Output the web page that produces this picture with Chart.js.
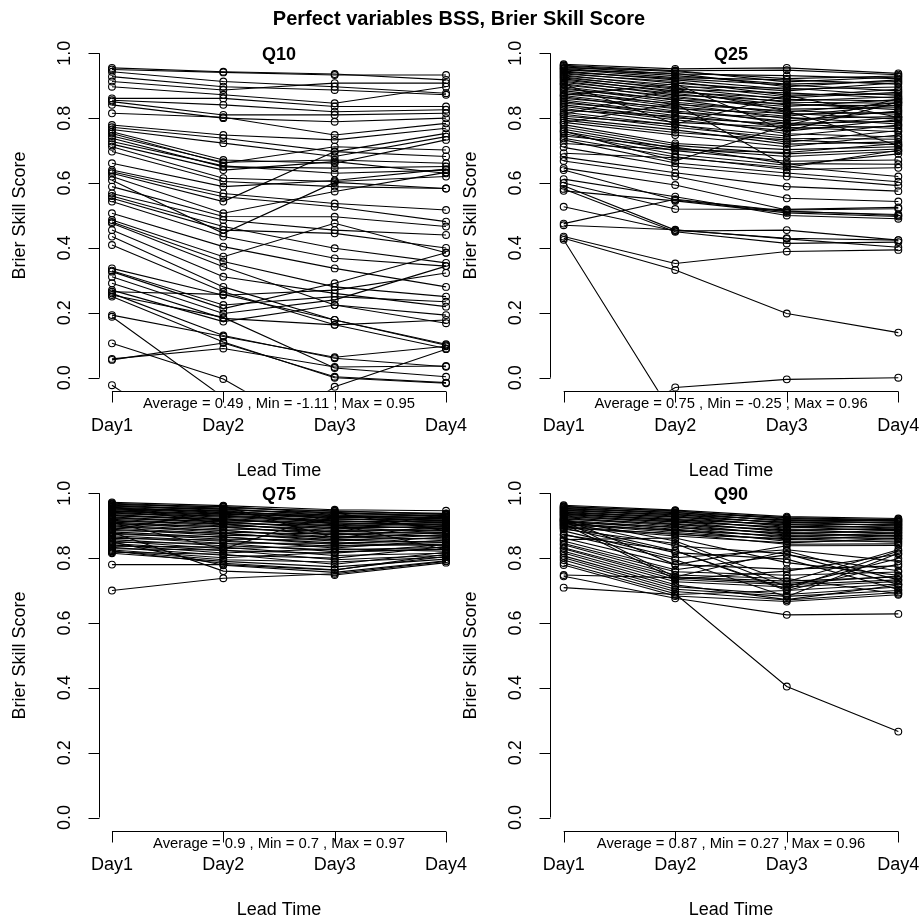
<!DOCTYPE html>
<html lang="en">
<head>
    <meta charset="UTF-8">
    <title>Perfect variables BSS, Brier Skill Score</title>
    <script src="https://cdn.jsdelivr.net/npm/chart.js"></script>
    <style>
        body { margin: 0; background: #ffffff; }
        #wrap { position: relative; width: 919px; height: 921px; }
        #wrap canvas { position: absolute; left: 0; top: 0; }
    </style>
</head>
<body>
    <div id="wrap">
        <canvas id="c10" width="919" height="921"></canvas>
        <canvas id="c25" width="919" height="921"></canvas>
        <canvas id="c75" width="919" height="921"></canvas>
        <canvas id="c90" width="919" height="921"></canvas>
    </div>

    <script>
        const mainTitle = 'Perfect variables BSS, Brier Skill Score';
        const days = ['Day1', 'Day2', 'Day3', 'Day4'];
        const yTicks = [0, 0.2, 0.4, 0.6, 0.8, 1.0];
        const yTitle = 'Brier Skill Score';
        const xTitle = 'Lead Time';
        const panelNames = ['Q10', 'Q25', 'Q75', 'Q90'];
        const statLines = [
            'Average = 0.49 , Min = -1.11 , Max = 0.95',
            'Average = 0.75 , Min = -0.25 , Max = 0.96',
            'Average = 0.9 , Min = 0.7 , Max = 0.97',
            'Average = 0.87 , Min = 0.27 , Max = 0.96'
        ];

        // one row per variable: Day1..Day4
        const q10 = [
            [0.955, 0.943, 0.936, 0.918], [0.950, 0.941, 0.933, 0.933], [0.943, 0.913, 0.897, 0.877],
            [0.928, 0.897, 0.887, 0.872], [0.913, 0.887, 0.908, 0.908], [0.897, 0.872, 0.846, 0.897],
            [0.861, 0.861, 0.836, 0.836], [0.855, 0.841, 0.820, 0.826], [0.851, 0.810, 0.810, 0.815],
            [0.841, 0.800, 0.789, 0.800], [0.815, 0.803, 0.748, 0.784], [0.779, 0.748, 0.733, 0.769],
            [0.772, 0.738, 0.697, 0.753], [0.765, 0.723, 0.682, 0.743], [0.758, 0.671, 0.661, 0.733],
            [0.753, 0.661, 0.712, 0.702], [0.745, 0.664, 0.671, 0.661], [0.738, 0.650, 0.646, 0.651],
            [0.728, 0.653, 0.630, 0.640], [0.720, 0.640, 0.666, 0.630], [0.712, 0.615, 0.605, 0.620],
            [0.697, 0.605, 0.589, 0.583], [0.661, 0.589, 0.608, 0.643], [0.640, 0.568, 0.537, 0.517],
            [0.635, 0.558, 0.527, 0.481], [0.630, 0.543, 0.697, 0.682], [0.620, 0.507, 0.574, 0.633],
            [0.609, 0.445, 0.602, 0.583], [0.589, 0.497, 0.496, 0.466], [0.568, 0.486, 0.455, 0.440],
            [0.560, 0.466, 0.399, 0.354], [0.553, 0.455, 0.445, 0.400], [0.543, 0.435, 0.368, 0.344],
            [0.507, 0.404, 0.337, 0.280], [0.486, 0.373, 0.476, 0.385], [0.480, 0.358, 0.280, 0.250],
            [0.476, 0.342, 0.224, 0.193], [0.455, 0.311, 0.260, 0.219], [0.435, 0.280, 0.178, 0.100],
            [0.409, 0.265, 0.163, 0.090], [0.337, 0.254, 0.270, 0.323], [0.330, 0.224, 0.250, 0.234],
            [0.327, 0.213, 0.291, 0.385], [0.311, 0.198, 0.240, 0.344], [0.291, 0.183, 0.163, 0.178],
            [0.270, 0.173, 0.224, 0.168], [0.265, 0.257, 0.178, 0.103], [0.260, 0.130, 0.060, 0.034],
            [0.255, 0.186, 0.030, 0.003], [0.250, 0.110, 0.000, -0.017], [0.193, 0.127, 0.063, 0.097],
            [0.188, -0.060, -1.110, -0.400], [0.106, -0.004, -0.200, -0.300], [0.058, 0.090, 0.033, 0.036],
            [0.055, 0.107, 0.003, -0.015], [-0.023, -0.250, -0.028, 0.088]
        ];

        const q25 = [
            [0.966, 0.952, 0.955, 0.938], [0.963, 0.946, 0.948, 0.934], [0.961, 0.943, 0.922, 0.930],
            [0.958, 0.936, 0.931, 0.922], [0.955, 0.947, 0.912, 0.927], [0.953, 0.931, 0.905, 0.913],
            [0.951, 0.925, 0.918, 0.905], [0.948, 0.938, 0.897, 0.918], [0.945, 0.918, 0.889, 0.896],
            [0.942, 0.922, 0.902, 0.884], [0.939, 0.908, 0.884, 0.909], [0.936, 0.913, 0.871, 0.875],
            [0.933, 0.896, 0.893, 0.870], [0.930, 0.902, 0.866, 0.889], [0.927, 0.889, 0.878, 0.862],
            [0.924, 0.893, 0.858, 0.853], [0.921, 0.880, 0.862, 0.880], [0.917, 0.884, 0.849, 0.846],
            [0.914, 0.871, 0.853, 0.866], [0.910, 0.876, 0.841, 0.838], [0.906, 0.862, 0.836, 0.857],
            [0.902, 0.867, 0.828, 0.832], [0.897, 0.855, 0.845, 0.826], [0.893, 0.849, 0.819, 0.848],
            [0.889, 0.858, 0.812, 0.818], [0.885, 0.842, 0.823, 0.812], [0.880, 0.836, 0.806, 0.841],
            [0.875, 0.845, 0.798, 0.805], [0.870, 0.829, 0.815, 0.797], [0.866, 0.822, 0.791, 0.822],
            [0.861, 0.833, 0.784, 0.790], [0.856, 0.815, 0.803, 0.782], [0.851, 0.808, 0.776, 0.803],
            [0.846, 0.819, 0.769, 0.775], [0.841, 0.801, 0.782, 0.768], [0.836, 0.795, 0.760, 0.795],
            [0.830, 0.787, 0.772, 0.758], [0.824, 0.806, 0.752, 0.742], [0.818, 0.779, 0.745, 0.779],
            [0.812, 0.772, 0.738, 0.735], [0.806, 0.781, 0.726, 0.762], [0.800, 0.764, 0.720, 0.727],
            [0.794, 0.756, 0.733, 0.718], [0.787, 0.748, 0.712, 0.748], [0.780, 0.722, 0.703, 0.712],
            [0.773, 0.716, 0.690, 0.705], [0.766, 0.707, 0.682, 0.698], [0.759, 0.700, 0.667, 0.671],
            [0.752, 0.689, 0.655, 0.690], [0.745, 0.711, 0.660, 0.658], [0.738, 0.681, 0.642, 0.647],
            [0.733, 0.662, 0.631, 0.604], [0.722, 0.703, 0.694, 0.722], [0.710, 0.651, 0.620, 0.592],
            [0.692, 0.678, 0.648, 0.701], [0.680, 0.632, 0.589, 0.575], [0.668, 0.620, 0.553, 0.543],
            [0.646, 0.594, 0.517, 0.521], [0.640, 0.548, 0.512, 0.503], [0.612, 0.558, 0.500, 0.490],
            [0.600, 0.520, 0.519, 0.525], [0.592, 0.455, 0.430, 0.424], [0.582, 0.450, 0.414, 0.418],
            [0.576, 0.545, 0.508, 0.497], [0.527, 0.452, 0.455, 0.424], [0.475, 0.550, 0.514, 0.500],
            [0.470, 0.456, 0.428, 0.402], [0.435, 0.352, 0.389, 0.394], [0.430, 0.332, 0.198, 0.139],
            [0.425, -0.125, -0.200, -0.150], [-0.250, -0.030, -0.005, 0.000],
            [0.905, 0.782, 0.870, 0.803], [0.871, 0.906, 0.760, 0.850], [0.812, 0.890, 0.822, 0.716],
            [0.786, 0.845, 0.651, 0.620], [0.760, 0.668, 0.778, 0.860]
        ];

        const q75 = [
            [0.972, 0.962, 0.949, 0.946], [0.969, 0.957, 0.944, 0.938], [0.967, 0.954, 0.946, 0.935],
            [0.965, 0.959, 0.938, 0.931], [0.963, 0.950, 0.936, 0.937], [0.961, 0.947, 0.941, 0.928],
            [0.959, 0.952, 0.931, 0.925], [0.957, 0.944, 0.928, 0.933], [0.955, 0.941, 0.933, 0.921],
            [0.953, 0.938, 0.925, 0.927], [0.951, 0.946, 0.921, 0.918], [0.949, 0.935, 0.929, 0.915],
            [0.947, 0.932, 0.918, 0.923], [0.945, 0.929, 0.914, 0.912], [0.943, 0.937, 0.922, 0.909],
            [0.941, 0.926, 0.911, 0.917], [0.939, 0.922, 0.907, 0.905], [0.937, 0.930, 0.915, 0.902],
            [0.934, 0.918, 0.903, 0.911], [0.932, 0.915, 0.909, 0.898], [0.930, 0.921, 0.898, 0.906],
            [0.927, 0.911, 0.894, 0.895], [0.925, 0.907, 0.901, 0.891], [0.922, 0.913, 0.889, 0.900],
            [0.920, 0.903, 0.885, 0.887], [0.917, 0.899, 0.892, 0.883], [0.914, 0.906, 0.880, 0.893],
            [0.911, 0.895, 0.876, 0.879], [0.908, 0.890, 0.883, 0.875], [0.905, 0.897, 0.871, 0.886],
            [0.902, 0.885, 0.866, 0.871], [0.899, 0.880, 0.874, 0.867], [0.896, 0.886, 0.861, 0.880],
            [0.893, 0.875, 0.857, 0.862], [0.889, 0.870, 0.866, 0.858], [0.885, 0.877, 0.852, 0.873],
            [0.881, 0.864, 0.847, 0.853], [0.877, 0.858, 0.856, 0.848], [0.873, 0.866, 0.842, 0.865],
            [0.869, 0.852, 0.837, 0.843], [0.865, 0.846, 0.846, 0.838], [0.861, 0.856, 0.831, 0.856],
            [0.857, 0.838, 0.826, 0.833], [0.853, 0.829, 0.838, 0.848], [0.849, 0.845, 0.820, 0.827],
            [0.845, 0.823, 0.815, 0.842], [0.841, 0.816, 0.829, 0.821], [0.837, 0.834, 0.808, 0.815],
            [0.833, 0.809, 0.800, 0.836], [0.829, 0.825, 0.795, 0.809], [0.825, 0.801, 0.818, 0.828],
            [0.821, 0.795, 0.788, 0.803], [0.818, 0.812, 0.781, 0.818], [0.815, 0.790, 0.773, 0.797],
            [0.822, 0.784, 0.764, 0.805], [0.850, 0.778, 0.756, 0.792], [0.880, 0.760, 0.748, 0.786],
            [0.780, 0.780, 0.763, 0.812], [0.700, 0.738, 0.752, 0.790],
            [0.958, 0.905, 0.880, 0.936], [0.942, 0.960, 0.862, 0.901], [0.910, 0.828, 0.940, 0.884],
            [0.888, 0.944, 0.905, 0.826]
        ];

        const q90 = [
            [0.963, 0.948, 0.928, 0.922], [0.960, 0.944, 0.925, 0.918], [0.958, 0.946, 0.920, 0.920],
            [0.956, 0.940, 0.923, 0.914], [0.954, 0.937, 0.916, 0.916], [0.952, 0.941, 0.913, 0.910],
            [0.950, 0.933, 0.918, 0.907], [0.948, 0.930, 0.909, 0.912], [0.946, 0.935, 0.906, 0.903],
            [0.944, 0.926, 0.911, 0.899], [0.942, 0.922, 0.902, 0.905], [0.940, 0.928, 0.898, 0.895],
            [0.938, 0.918, 0.904, 0.892], [0.936, 0.915, 0.893, 0.900], [0.934, 0.920, 0.889, 0.888],
            [0.932, 0.911, 0.896, 0.884], [0.930, 0.907, 0.884, 0.893], [0.927, 0.913, 0.880, 0.880],
            [0.925, 0.903, 0.887, 0.876], [0.922, 0.899, 0.875, 0.886], [0.920, 0.905, 0.871, 0.871],
            [0.917, 0.894, 0.878, 0.867], [0.914, 0.889, 0.866, 0.878], [0.911, 0.896, 0.862, 0.862],
            [0.908, 0.884, 0.869, 0.858], [0.905, 0.879, 0.857, 0.870], [0.902, 0.887, 0.852, 0.853],
            [0.899, 0.873, 0.860, 0.849], [0.896, 0.868, 0.847, 0.861], [0.893, 0.876, 0.843, 0.844],
            [0.921, 0.780, 0.838, 0.839], [0.918, 0.853, 0.727, 0.826], [0.915, 0.742, 0.822, 0.733],
            [0.912, 0.838, 0.813, 0.719], [0.906, 0.735, 0.760, 0.812], [0.901, 0.823, 0.704, 0.822],
            [0.893, 0.817, 0.797, 0.703], [0.889, 0.845, 0.712, 0.799], [0.884, 0.801, 0.826, 0.790],
            [0.874, 0.795, 0.681, 0.815], [0.871, 0.823, 0.700, 0.782], [0.862, 0.780, 0.766, 0.776],
            [0.857, 0.862, 0.786, 0.747], [0.853, 0.764, 0.810, 0.761], [0.845, 0.758, 0.747, 0.757],
            [0.841, 0.748, 0.737, 0.690], [0.832, 0.742, 0.729, 0.742], [0.829, 0.734, 0.718, 0.733],
            [0.821, 0.727, 0.711, 0.728], [0.816, 0.718, 0.672, 0.717], [0.807, 0.712, 0.688, 0.711],
            [0.801, 0.704, 0.682, 0.700], [0.794, 0.697, 0.671, 0.694], [0.785, 0.690, 0.404, 0.265],
            [0.779, 0.683, 0.666, 0.687], [0.748, 0.740, 0.722, 0.745], [0.744, 0.676, 0.625, 0.628],
            [0.709, 0.688, 0.700, 0.720]
        ];

        const panelRows = [q10, q25, q75, q90];
        const canvasIds = ['c10', 'c25', 'c75', 'c90'];
        // plot regions (page px): left, top, right, bottom
        const regions = [
            [98.6, 40.3, 459.4, 390.7],
            [550.3, 40.3, 911.7, 390.7],
            [98.6, 480.3, 459.4, 830.5],
            [550.3, 480.3, 911.7, 830.5]
        ];

        const FONT = '"Liberation Sans", Arial, Helvetica, sans-serif';

        function rAxes(name, stats, withMain) {
            return {
                id: 'rAxes',
                afterDraw(chart) {
                    const c = chart.ctx, a = chart.chartArea;
                    const xs = chart.scales.x, ys = chart.scales.y;
                    const cx = (a.left + a.right) / 2;
                    c.save();
                    c.strokeStyle = '#000';
                    c.fillStyle = '#000';
                    c.lineWidth = 1;

                    // y axis
                    const yl = Math.round(a.left) + 0.5;
                    c.beginPath();
                    c.moveTo(yl, ys.getPixelForValue(yTicks[0]));
                    c.lineTo(yl, ys.getPixelForValue(yTicks[yTicks.length - 1]));
                    yTicks.forEach(t => {
                        const py = Math.round(ys.getPixelForValue(t)) + 0.5;
                        c.moveTo(yl, py);
                        c.lineTo(yl - 11, py);
                    });
                    c.stroke();

                    // x axis
                    const xb = Math.round(a.bottom) + 0.5;
                    c.beginPath();
                    c.moveTo(xs.getPixelForValue(1), xb);
                    c.lineTo(xs.getPixelForValue(days.length), xb);
                    days.forEach((d, i) => {
                        const px = Math.round(xs.getPixelForValue(i + 1)) + 0.5;
                        c.moveTo(px, xb);
                        c.lineTo(px, xb + 11);
                    });
                    c.stroke();

                    c.textAlign = 'center';
                    c.textBaseline = 'middle';
                    c.font = '18px ' + FONT;
                    days.forEach((d, i) => {
                        c.fillText(d, xs.getPixelForValue(i + 1), a.bottom + 35);
                    });
                    c.fillText(xTitle, cx, a.bottom + 80);

                    yTicks.forEach(t => {
                        c.save();
                        c.translate(a.left - 34, ys.getPixelForValue(t));
                        c.rotate(-Math.PI / 2);
                        c.fillText(t.toFixed(1), 0, 0);
                        c.restore();
                    });
                    c.save();
                    c.translate(a.left - 79, (a.top + a.bottom) / 2);
                    c.rotate(-Math.PI / 2);
                    c.fillText(yTitle, 0, 0);
                    c.restore();

                    c.font = '14.8px ' + FONT;
                    c.fillText(stats, cx, a.bottom + 13.5);

                    c.font = 'bold 18px ' + FONT;
                    c.fillText(name, cx, a.top + 15);

                    if (withMain) {
                        c.font = 'bold 20px ' + FONT;
                        c.fillText(mainTitle, 459, 19);
                    }
                    c.restore();
                }
            };
        }

        panelRows.forEach((rows, p) => {
            const [l, t, r, b] = regions[p];
            const cv = document.getElementById(canvasIds[p]);
            const datasets = rows.map(row => ({
                data: row.map((v, i) => ({ x: i + 1, y: v })),
                borderColor: '#000',
                borderWidth: 1.1,
                pointRadius: 3.4,
                pointBorderWidth: 1.1,
                pointBorderColor: '#000',
                pointBackgroundColor: 'rgba(0,0,0,0)',
                fill: false,
                tension: 0
            }));
            new Chart(cv.getContext('2d'), {
                type: 'line',
                data: { datasets: datasets },
                options: {
                    responsive: false,
                    animation: false,
                    events: [],
                    layout: { padding: { left: l, top: t, right: cv.width - r, bottom: cv.height - b } },
                    plugins: { legend: { display: false }, tooltip: { enabled: false } },
                    scales: {
                        x: { type: 'linear', min: 0.88, max: 4.12, display: false },
                        y: { type: 'linear', min: -0.04, max: 1.04, display: false }
                    }
                },
                plugins: [rAxes(panelNames[p], statLines[p], p === 0)]
            });
        });
    </script>
</body>
</html>
